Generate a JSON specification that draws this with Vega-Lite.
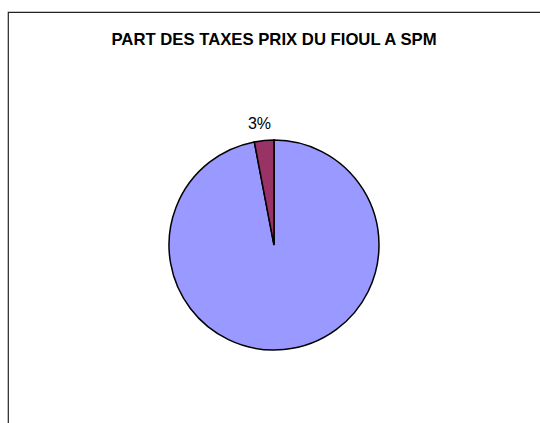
{
  "$schema": "https://vega.github.io/schema/vega-lite/v6.json",
  "autosize": "none",
  "width": 532,
  "height": 411,
  "padding": {"left": 8, "top": 12, "right": 0, "bottom": 0},
  "background": "white",
  "view": {"stroke": "#222222", "strokeWidth": 1.2, "strokeDash": [532, 943, 411, 0]},
  "title": {
    "text": "PART DES TAXES PRIX DU FIOUL A SPM",
    "font": "Liberation Sans",
    "fontSize": 16.7,
    "fontWeight": "bold",
    "color": "black",
    "anchor": "middle",
    "baseline": "alphabetic",
    "offset": -50
  },
  "data": {
    "values": [
      {"category": "Prix hors taxes", "value": 97, "label": ""},
      {"category": "Taxes", "value": 3, "label": "3%"}
    ]
  },
  "encoding": {
    "theta": {"field": "value", "type": "quantitative", "stack": true},
    "order": {"field": "value", "type": "quantitative", "sort": "descending"}
  },
  "layer": [
    {
      "mark": {"type": "arc", "radius": 105, "stroke": "black", "strokeWidth": 1.5, "y": {"expr": "height * 0.567"}},
      "encoding": {
        "color": {
          "field": "category",
          "type": "nominal",
          "scale": {"domain": ["Prix hors taxes", "Taxes"], "range": ["#9999FF", "#993366"]},
          "legend": null
        }
      }
    },
    {
      "mark": {"type": "text", "radius": 122, "dx": -3, "y": {"expr": "height * 0.567"}, "font": "Liberation Sans", "fontSize": 16, "color": "black", "baseline": "middle", "align": "center"},
      "encoding": {"text": {"field": "label"}}
    }
  ]
}
